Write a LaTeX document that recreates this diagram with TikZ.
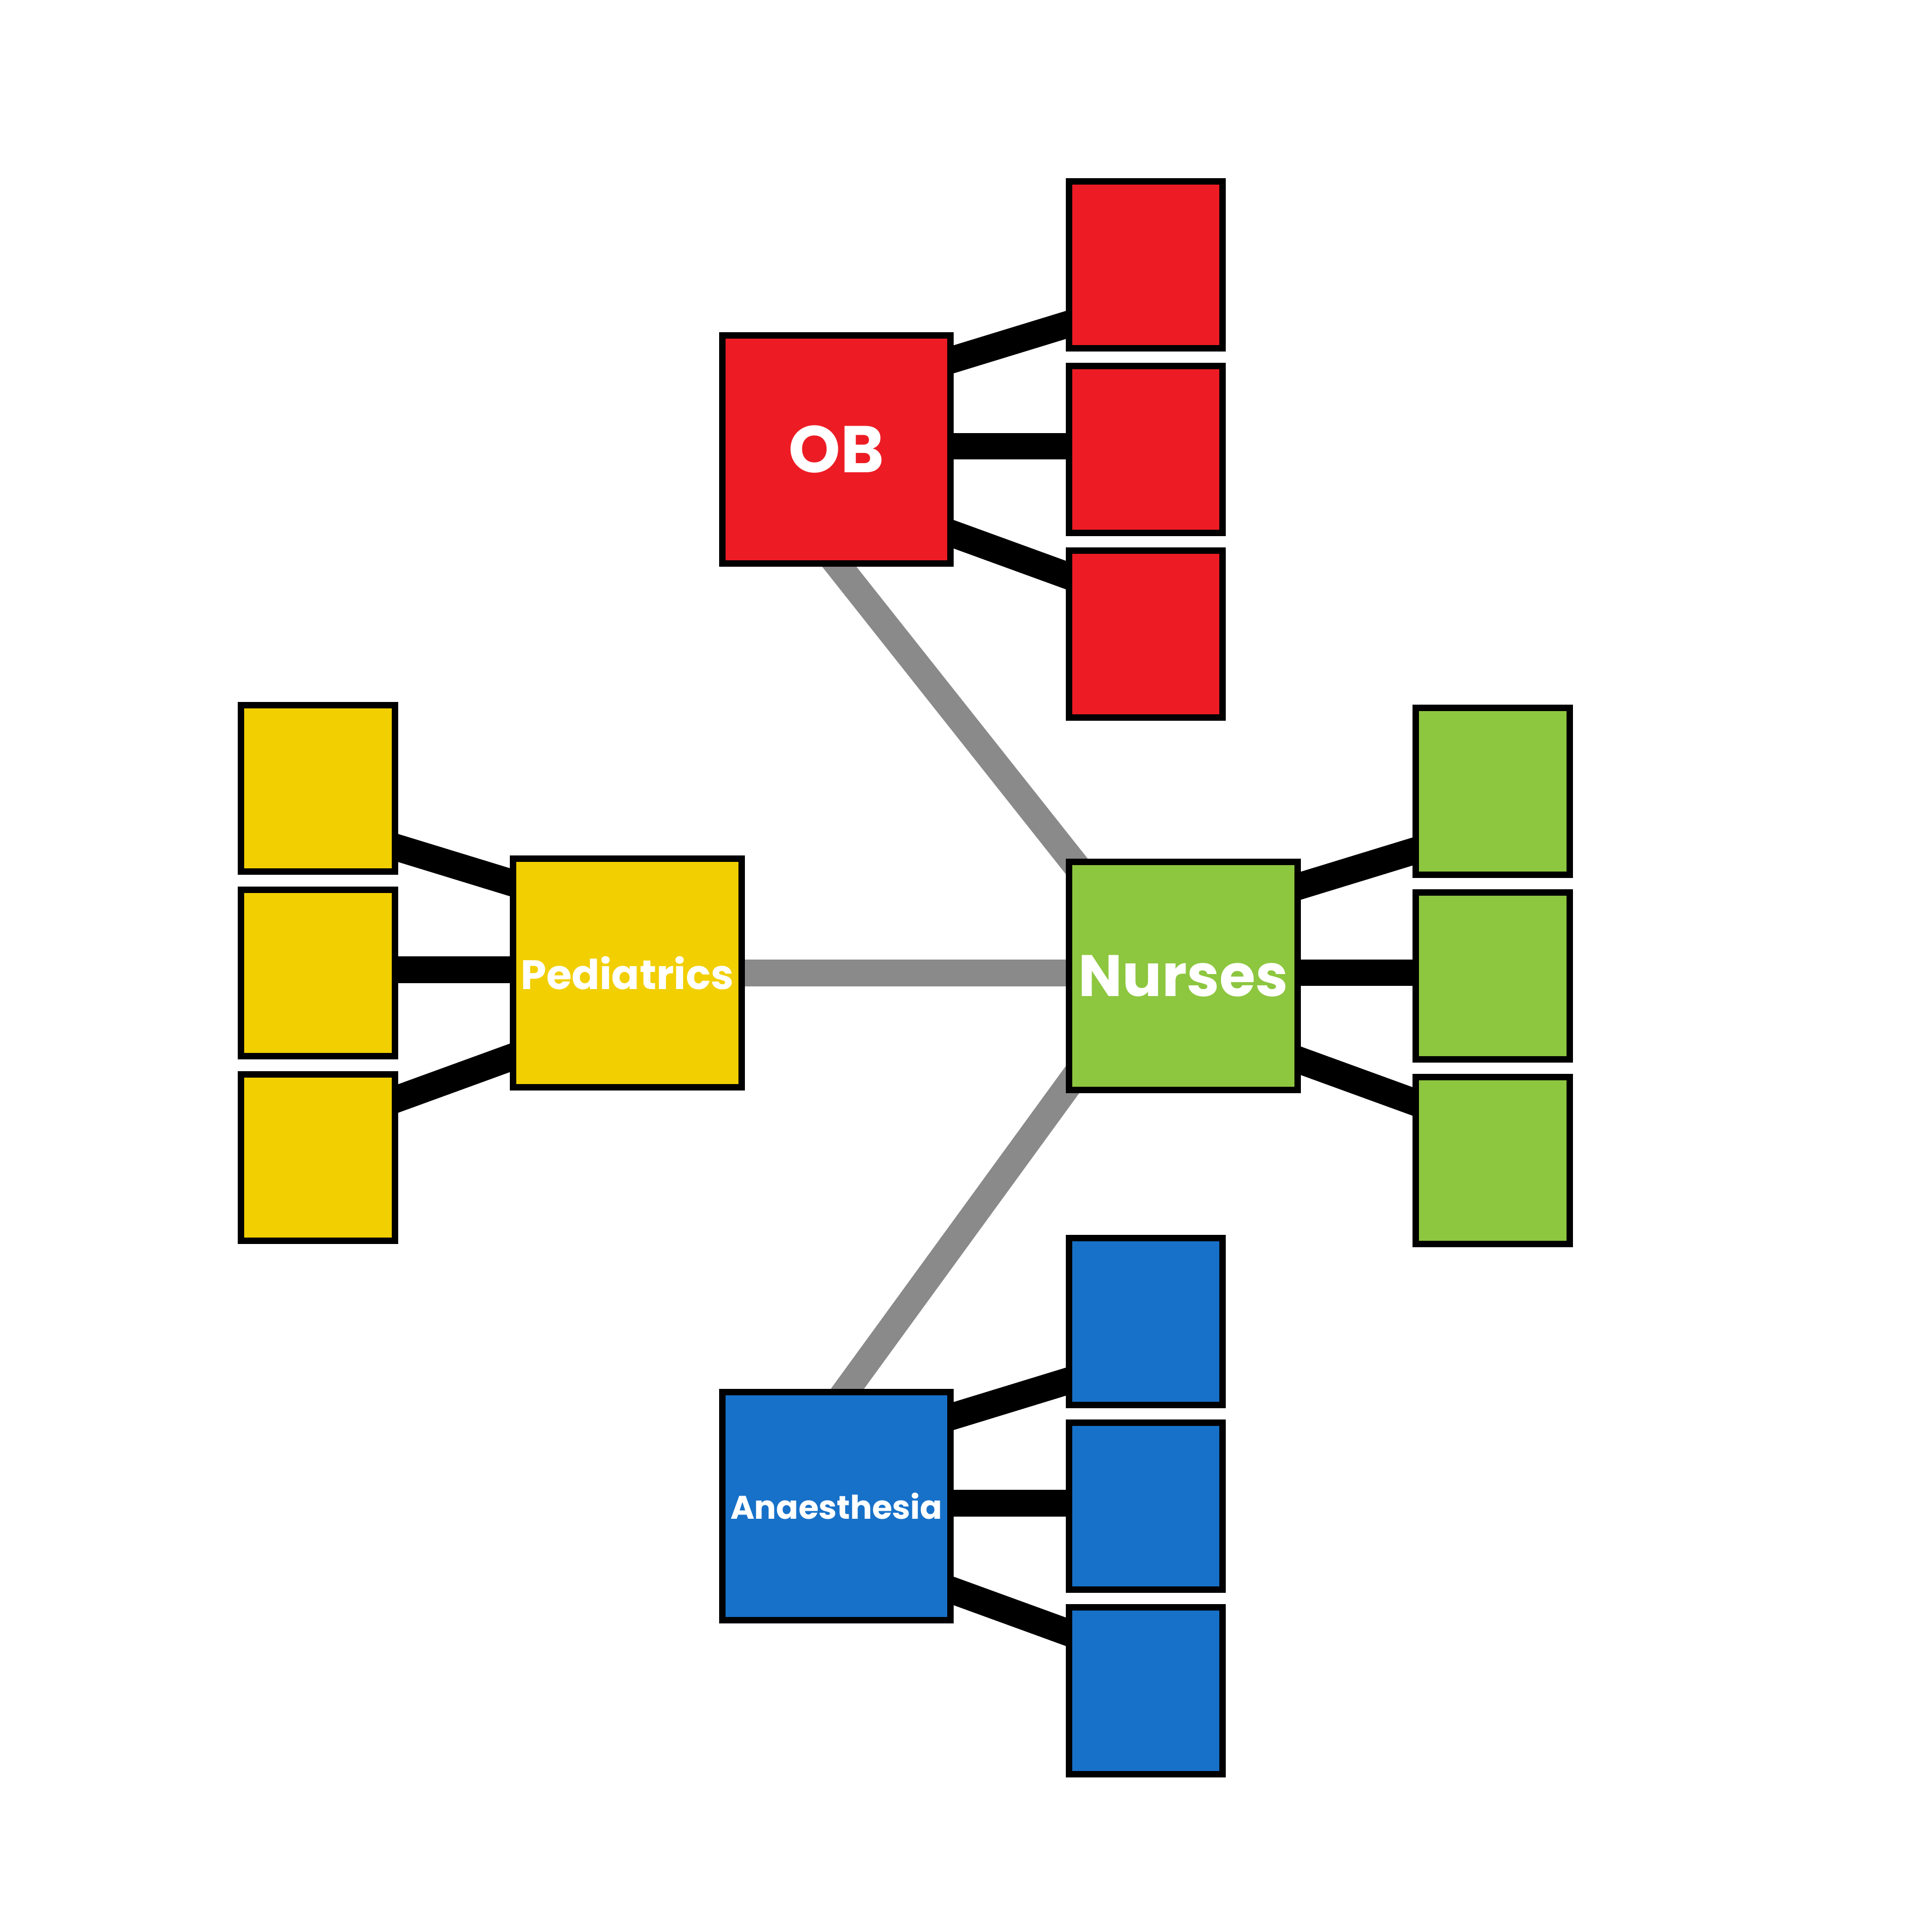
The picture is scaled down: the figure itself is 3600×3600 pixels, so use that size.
\documentclass[tikz,border=0pt]{standalone}
\usepackage{fontspec}
\setmainfont{Poppins}
\usetikzlibrary{calc,backgrounds}
\definecolor{obred}{HTML}{ED1C24}
\definecolor{nursegreen}{HTML}{8DC63F}
\definecolor{pedyellow}{HTML}{F2CF00}
\definecolor{anablue}{HTML}{1771C9}
\definecolor{linkgray}{HTML}{8A8A8A}
\begin{document}
\begin{tikzpicture}[x=0.01cm,y=-0.01cm,
  hub/.style={draw=black,line width=3.41pt,minimum width=4.25cm,minimum height=4.25cm,inner sep=0pt,text=white},
  leaf/.style={draw=black,line width=3.41pt,minimum width=2.86cm,minimum height=3.10cm,inner sep=0pt},
  tie/.style={line width=14.2pt,draw=black,shorten <=-5pt,shorten >=-5pt},
  link/.style={line width=14.2pt,draw=linkgray,shorten <=-25pt,shorten >=-25pt}]
\useasboundingbox (0,0) rectangle (3600,3600);

% hubs
\node[hub,fill=obred,font=\bfseries\fontsize{35}{40}\selectfont] (ob) at (1558.5,837.5) {OB};
\node[hub,fill=nursegreen,font=\bfseries\fontsize{31}{36}\selectfont] (nu) at (2205,1818.5) {Nurses};
\node[hub,fill=pedyellow,font=\bfseries\fontsize{21.8}{26}\selectfont] (pe) at (1169,1813) {Pediatrics};
\node[hub,fill=anablue,font=\bfseries\fontsize{17.3}{21}\selectfont] (an) at (1558.5,2806.5) {Anaesthesia};

% leaves
\foreach \i/\dy in {1/-344,2/0,3/344} {
  \node[leaf,fill=obred] (ob\i) at ($(ob)+(576.5,\dy)$) {};
  \node[leaf,fill=nursegreen] (nu\i) at ($(nu)+(576.5,\dy)$) {};
  \node[leaf,fill=pedyellow] (pe\i) at ($(pe)+(-576.5,\dy)$) {};
  \node[leaf,fill=anablue] (an\i) at ($(an)+(576.5,\dy)$) {};
}

\begin{scope}[on background layer]
\fill[white] (0,0) rectangle (3600,3600);
% gray links between hubs
\draw[link] ($(ob.south)+(5.5,0)$) -- ($(nu.north west)+(8.5,0)$);
\draw[link] (pe.east) -- (pe.east -| nu.west);
\draw[link] ($(an.north)+(20.5,0)$) -- ($(nu.south west)+(-6.5,0)$);
% black ties hub -> leaves
\foreach \h in {ob,nu,an} {
  \draw[tie] ($(\h.east)+(0,-168)$) -- ($(\h1.west)+(0,112)$);
  \draw[tie] ($(\h.east)+(0,-6)$) -- ($(\h2.west)+(0,-6)$);
  \draw[tie] ($(\h.east)+(0,158)$) -- ($(\h3.west)+(0,-110)$);
}
\draw[tie] ($(pe.west)+(0,-169)$) -- ($(pe1.east)+(0,111)$);
\draw[tie] ($(pe.west)+(0,-6)$) -- ($(pe2.east)+(0,-6)$);
\draw[tie] ($(pe.west)+(0,158)$) -- ($(pe3.east)+(0,-110)$);
\end{scope}
\end{tikzpicture}
\end{document}
